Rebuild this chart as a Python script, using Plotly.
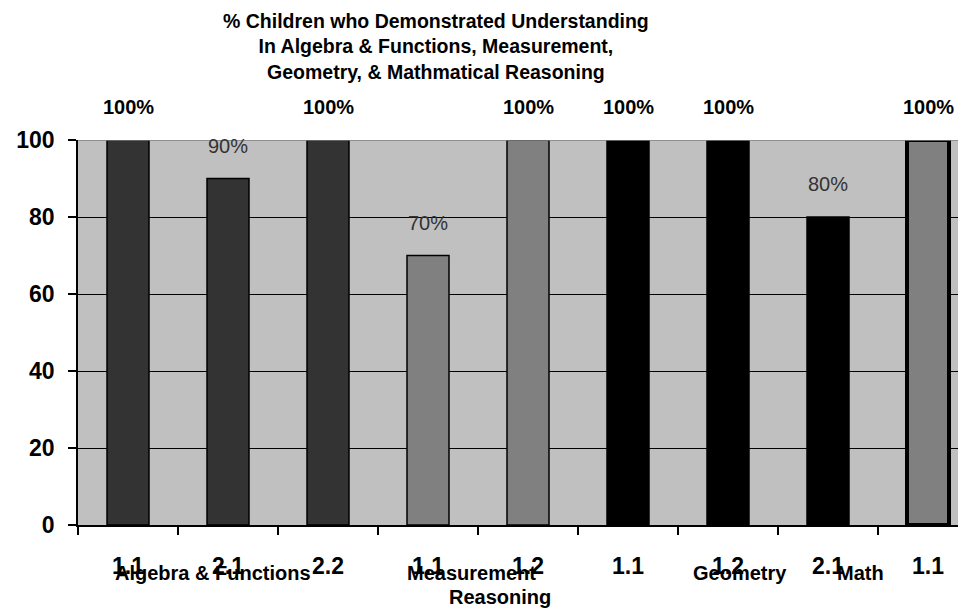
import plotly.graph_objects as go

# ---- data ----
series_names = ["Algebra & Functions", "Measurement", "Geometry", "Math"]
standard_labels = [
    ["1.1", "2.1", "2.2"],
    ["1.1", "1.2"],
    ["1.1", "1.2", "2.1"],
    ["1.1"],
]
percent_values = [
    [100, 90, 100],
    [70, 100],
    [100, 100, 80],
    [100],
]
title_lines = [
    "% Children who Demonstrated Understanding",
    "In Algebra & Functions, Measurement,",
    "Geometry, & Mathmatical Reasoning",
]
y_ticks = [0, 20, 40, 60, 80, 100]

# ---- styles ----
fill_colors = ["#333333", "#808080", "#000000", "#808080"]
line_widths = [1.5, 1.5, 1.5, 4]
label_bold = [[True, False, True], [False, True], [True, True, False], [True]]
group_label_pos = [0.85, 3.43, 6.12, 7.32]
FONT = "Liberation Sans, Arial, sans-serif"

fig = go.Figure()
all_x, all_text = [], []
annotations = []
pos = 0
for s, name in enumerate(series_names):
    xs = list(range(pos, pos + len(percent_values[s])))
    pos += len(xs)
    fig.add_trace(go.Bar(
        x=xs, y=percent_values[s], name=name, width=0.42,
        marker=dict(color=fill_colors[s], line=dict(color="#000000", width=line_widths[s])),
        showlegend=False,
    ))
    all_x += xs
    all_text += standard_labels[s]
    for xi, v, b in zip(xs, percent_values[s], label_bold[s]):
        txt = f"<b>{v}%</b>" if b else f"{v}%"
        annotations.append(dict(
            x=xi, y=v, xref="x", yref="y", text=txt, showarrow=False,
            yshift=33, yanchor="middle",
            font=dict(family=FONT, size=20, color="#000000" if b else "#333333"),
        ))
    annotations.append(dict(
        x=group_label_pos[s], y=0, xref="x", yref="y", text=f"<b>{name}</b>",
        showarrow=False, yshift=-48, yanchor="middle",
        font=dict(family=FONT, size=20, color="#000000"),
    ))

annotations.append(dict(
    x=3.72, y=0, xref="x", yref="y", text="<b>Reasoning</b>",
    showarrow=False, yshift=-72, yanchor="middle",
    font=dict(family=FONT, size=20, color="#000000"),
))

# title as annotation (plot area: top 140 px, height 385 px)
annotations.append(dict(
    x=(436 - 78) / 880, y=1 + (140 - 8) / 385, xref="paper", yref="paper",
    xanchor="center", yanchor="top", showarrow=False, align="center",
    text="<b>" + "<br>".join(title_lines) + "</b>",
    font=dict(family=FONT, size=19.5, color="#000000"),
))

boundaries = [i - 0.5 for i in range(len(all_x) + 1)]

fig.update_layout(
    width=958, height=609,
    margin=dict(l=78, r=0, t=140, b=84),
    paper_bgcolor="#ffffff", plot_bgcolor="#C0C0C0",
    annotations=annotations,
    shapes=[dict(type="line", xref="paper", yref="y", x0=0, x1=1, y0=100, y1=100,
                 line=dict(color="#808080", width=1.5))],
)
fig.update_xaxes(
    range=[-0.5, 8.3], tickmode="array", tickvals=all_x,
    ticktext=[f"<b>{t}</b>" for t in all_text],
    ticks="", showgrid=False, zeroline=False,
    showline=True, linecolor="#000000", linewidth=1.5,
    ticklabelstandoff=20,
    tickfont=dict(family=FONT, size=23, color="#000000"),
    minor=dict(tickmode="array", tickvals=boundaries, ticks="outside",
               ticklen=8, tickwidth=2, tickcolor="#000000", showgrid=False),
)
fig.update_yaxes(
    range=[0, 100], tickmode="array", tickvals=y_ticks,
    ticktext=[f"<b>{t}</b>" for t in y_ticks],
    ticks="outside", ticklen=8, tickwidth=2, tickcolor="#000000",
    showgrid=True, gridcolor="#000000", gridwidth=1, zeroline=False,
    showline=True, linecolor="#000000", linewidth=1.5,
    ticklabelstandoff=9,
    tickfont=dict(family=FONT, size=23, color="#000000"),
)

fig.write_html("out.html")
